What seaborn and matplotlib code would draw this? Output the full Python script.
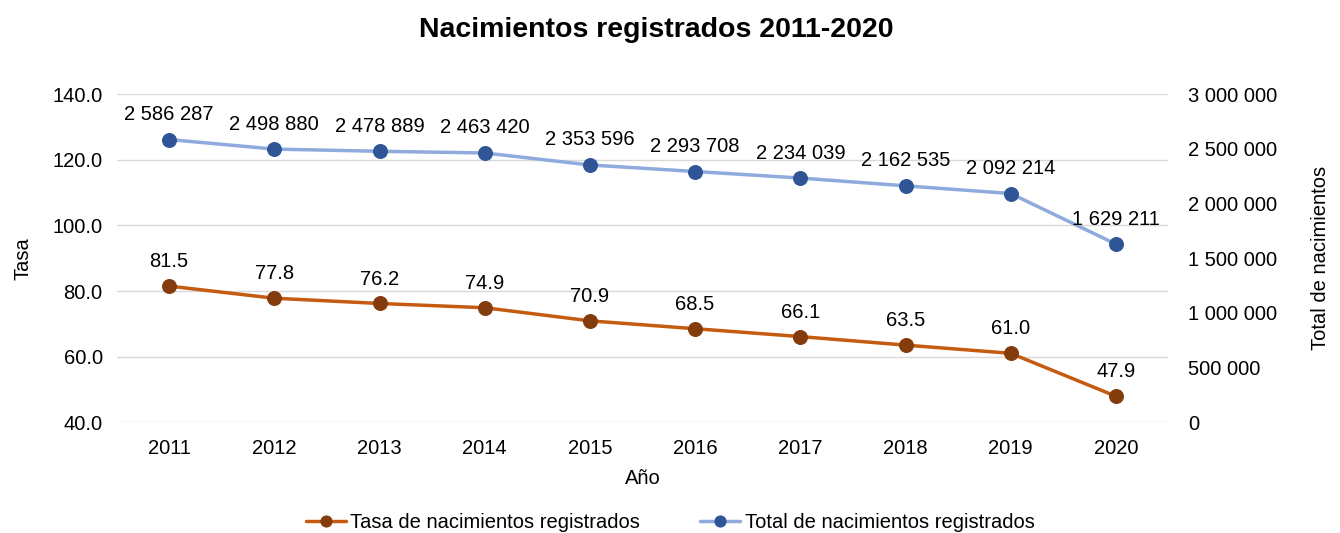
import pandas as pd
import matplotlib.pyplot as plt
import seaborn as sns

sns.set_theme(style="white")
plt.rcParams['font.family'] = ['Liberation Sans', 'DejaVu Sans']
plt.rcParams['text.color'] = "black"
plt.rcParams['axes.labelcolor'] = "black"

# Datos
years = ["2011", "2012", "2013", "2014", "2015", "2016", "2017", "2018", "2019", "2020"]
tasa = [81.5, 77.8, 76.2, 74.9, 70.9, 68.5, 66.1, 63.5, 61.0, 47.9]
total = [2586287, 2498880, 2478889, 2463420, 2353596, 2293708, 2234039, 2162535, 2092214, 1629211]

df = pd.DataFrame({"Año": years, "Tasa": tasa, "Total": total})

LINE_TASA, MARK_TASA = "#C55A11", "#843C0C"
LINE_TOTAL, MARK_TOTAL = "#8FAADC", "#2F5597"
FS = 14.5

fig, ax = plt.subplots(figsize=(13.4, 5.33), dpi=100)
fig.subplots_adjust(left=0.087, right=0.872, top=0.823, bottom=0.208)
ax2 = ax.twinx()

sns.lineplot(ax=ax, data=df, x="Año", y="Tasa", color=LINE_TASA, linewidth=2.5,
             marker="o", markersize=10, markerfacecolor=MARK_TASA, markeredgecolor=MARK_TASA,
             label="Tasa de nacimientos registrados", legend=False)
sns.lineplot(ax=ax2, data=df, x="Año", y="Total", color=LINE_TOTAL, linewidth=2.5,
             marker="o", markersize=10, markerfacecolor=MARK_TOTAL, markeredgecolor=MARK_TOTAL,
             label="Total de nacimientos registrados", legend=False)

ax.set_ylim(40, 140)
ax.set_yticks([40, 60, 80, 100, 120, 140])
ax.set_yticklabels([f"{v:.1f}" for v in ax.get_yticks()])
ax2.set_ylim(0, 3000000)
ax2.set_yticks(range(0, 3000001, 500000))
ax2.set_yticklabels([f"{int(v):,}".replace(",", " ") for v in ax2.get_yticks()])
ax.set_xlim(-0.5, 9.5)

ax.grid(axis="y", color="#D9D9D9", linewidth=1)
ax.set_axisbelow(True)
for a in (ax, ax2):
    for s in a.spines.values():
        s.set_visible(False)
    a.tick_params(length=0, labelsize=FS, colors="black")
ax.tick_params(axis="x", pad=12)
ax.tick_params(axis="y", pad=10)
ax2.tick_params(axis="y", pad=14)

for i, v in enumerate(tasa):
    ax.annotate(f"{v:.1f}", (i, v), xytext=(0, 17.5), textcoords="offset points",
                ha="center", va="center", fontsize=FS, color="black")
for i, v in enumerate(total):
    ax2.annotate(f"{v:,}".replace(",", " "), (i, v), xytext=(0, 18), textcoords="offset points",
                 ha="center", va="center", fontsize=FS, color="black")

ax.set_xlabel("Año", fontsize=FS, labelpad=8)
ax.set_ylabel("Tasa", fontsize=FS, labelpad=14)
ax2.set_ylabel("Total de nacimientos", fontsize=FS, labelpad=24)
fig.suptitle("Nacimientos registrados 2011-2020", fontsize=20.5, fontweight="bold",
             x=0.49, y=0.968, color="black")

h1, l1 = ax.get_legend_handles_labels()
h2, l2 = ax2.get_legend_handles_labels()
fig.legend(h1 + h2, l1 + l2, loc="lower center", ncol=2, frameon=False, fontsize=FS,
           bbox_to_anchor=(0.5, -0.033), handlelength=2, columnspacing=3, handletextpad=0.2,
           markerscale=0.8)

plt.savefig("out.png", dpi=100)
